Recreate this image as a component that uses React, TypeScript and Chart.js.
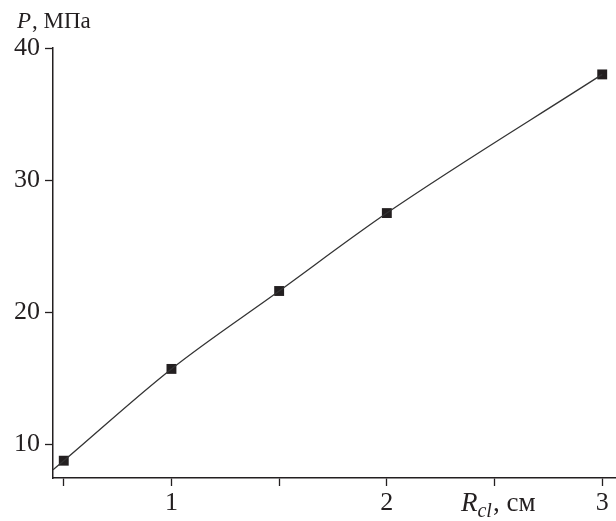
import React, { useEffect, useRef } from "react";
import { Chart, registerables } from "chart.js";

Chart.register(...registerables);

const xValues = [0.5, 1, 1.5, 2, 3];
const pValues = [8.75, 15.7, 21.6, 27.5, 38.0];
const curveX = [0.45, 0.5, 1, 1.5, 2, 3];
const curveY = [8.06, 8.75, 15.7, 21.6, 27.5, 38.0];
const xTicks = [0.5, 1, 1.5, 2, 2.5, 3];
const yTicks = [10, 20, 30, 40];

const INK = "#231f20";
const FONT = "'Liberation Serif', 'DejaVu Serif', serif";

const titlePlugin = {
  id: "titles",
  afterDraw(chart: any) {
    const ctx = chart.ctx;
    ctx.save();
    ctx.fillStyle = INK;
    ctx.textBaseline = "alphabetic";
    ctx.textAlign = "left";
    // Y title
    ctx.font = `italic 23px ${FONT}`;
    ctx.fillText("P", 17, 28);
    let w = ctx.measureText("P").width;
    ctx.font = `23px ${FONT}`;
    ctx.fillText(", МПа", 17 + w + 1, 28);
    // X title
    let x = 461;
    ctx.font = `italic 27px ${FONT}`;
    ctx.fillText("R", x, 511);
    x += ctx.measureText("R").width;
    ctx.font = `italic 20px ${FONT}`;
    ctx.fillText("cl", x, 517);
    x += ctx.measureText("cl").width + 1;
    ctx.font = `27px ${FONT}`;
    ctx.fillText(", см", x, 511);
    ctx.restore();
  },
};

export default function App() {
  const ref = useRef<HTMLCanvasElement | null>(null);
  useEffect(() => {
    if (!ref.current) return;
    const chart = new Chart(ref.current, {
      type: "line",
      data: {
        datasets: [
          {
            data: curveX.map((x, i) => ({ x, y: curveY[i] })),
            borderColor: "#333333",
            borderWidth: 1.3,
            pointRadius: 0,
            cubicInterpolationMode: "monotone",
            fill: false,
          },
          {
            data: xValues.map((x, i) => ({ x, y: pValues[i] })),
            showLine: false,
            pointStyle: "rect",
            pointRadius: 7,
            pointBackgroundColor: INK,
            pointBorderColor: INK,
            pointBorderWidth: 0,
          },
        ],
      },
      plugins: [titlePlugin],
      options: {
        animation: false,
        responsive: false,
        layout: { autoPadding: false, padding: { top: 48, left: 0, right: 0, bottom: 0 } },
        plugins: { legend: { display: false }, tooltip: { enabled: false } },
        scales: {
          x: {
            type: "linear",
            min: 0.45,
            max: 3.064,
            afterBuildTicks: (s: any) => {
              s.ticks = xTicks.map((v) => ({ value: v }));
            },
            afterFit: (s: any) => {
              s.height = 43;
            },
            ticks: {
              callback: (v: any) => (Number.isInteger(v) ? String(v) : ""),
              font: { family: FONT, size: 26 },
              color: INK,
              padding: 2,
              autoSkip: false,
              maxRotation: 0,
            },
            grid: {
              drawOnChartArea: false,
              drawTicks: true,
              tickLength: 8,
              tickColor: INK,
              tickWidth: 1.3,
            },
            border: { display: true, color: INK, width: 1.5 },
          },
          y: {
            min: 7.44,
            max: 40,
            afterBuildTicks: (s: any) => {
              s.ticks = yTicks.map((v) => ({ value: v }));
            },
            afterFit: (s: any) => {
              s.width = 53;
            },
            ticks: {
              font: { family: FONT, size: 26 },
              color: INK,
              padding: 5,
            },
            grid: {
              drawOnChartArea: false,
              drawTicks: true,
              tickLength: 8,
              tickColor: INK,
              tickWidth: 1.3,
            },
            border: { display: true, color: INK, width: 1.5 },
          },
        },
      },
    });
    return () => chart.destroy();
  }, []);
  return (
    <div style={{ position: "absolute", left: 0, top: 0, width: 616, height: 521, background: "#fff" }}>
      <canvas ref={ref} width={616} height={521} />
    </div>
  );
}
